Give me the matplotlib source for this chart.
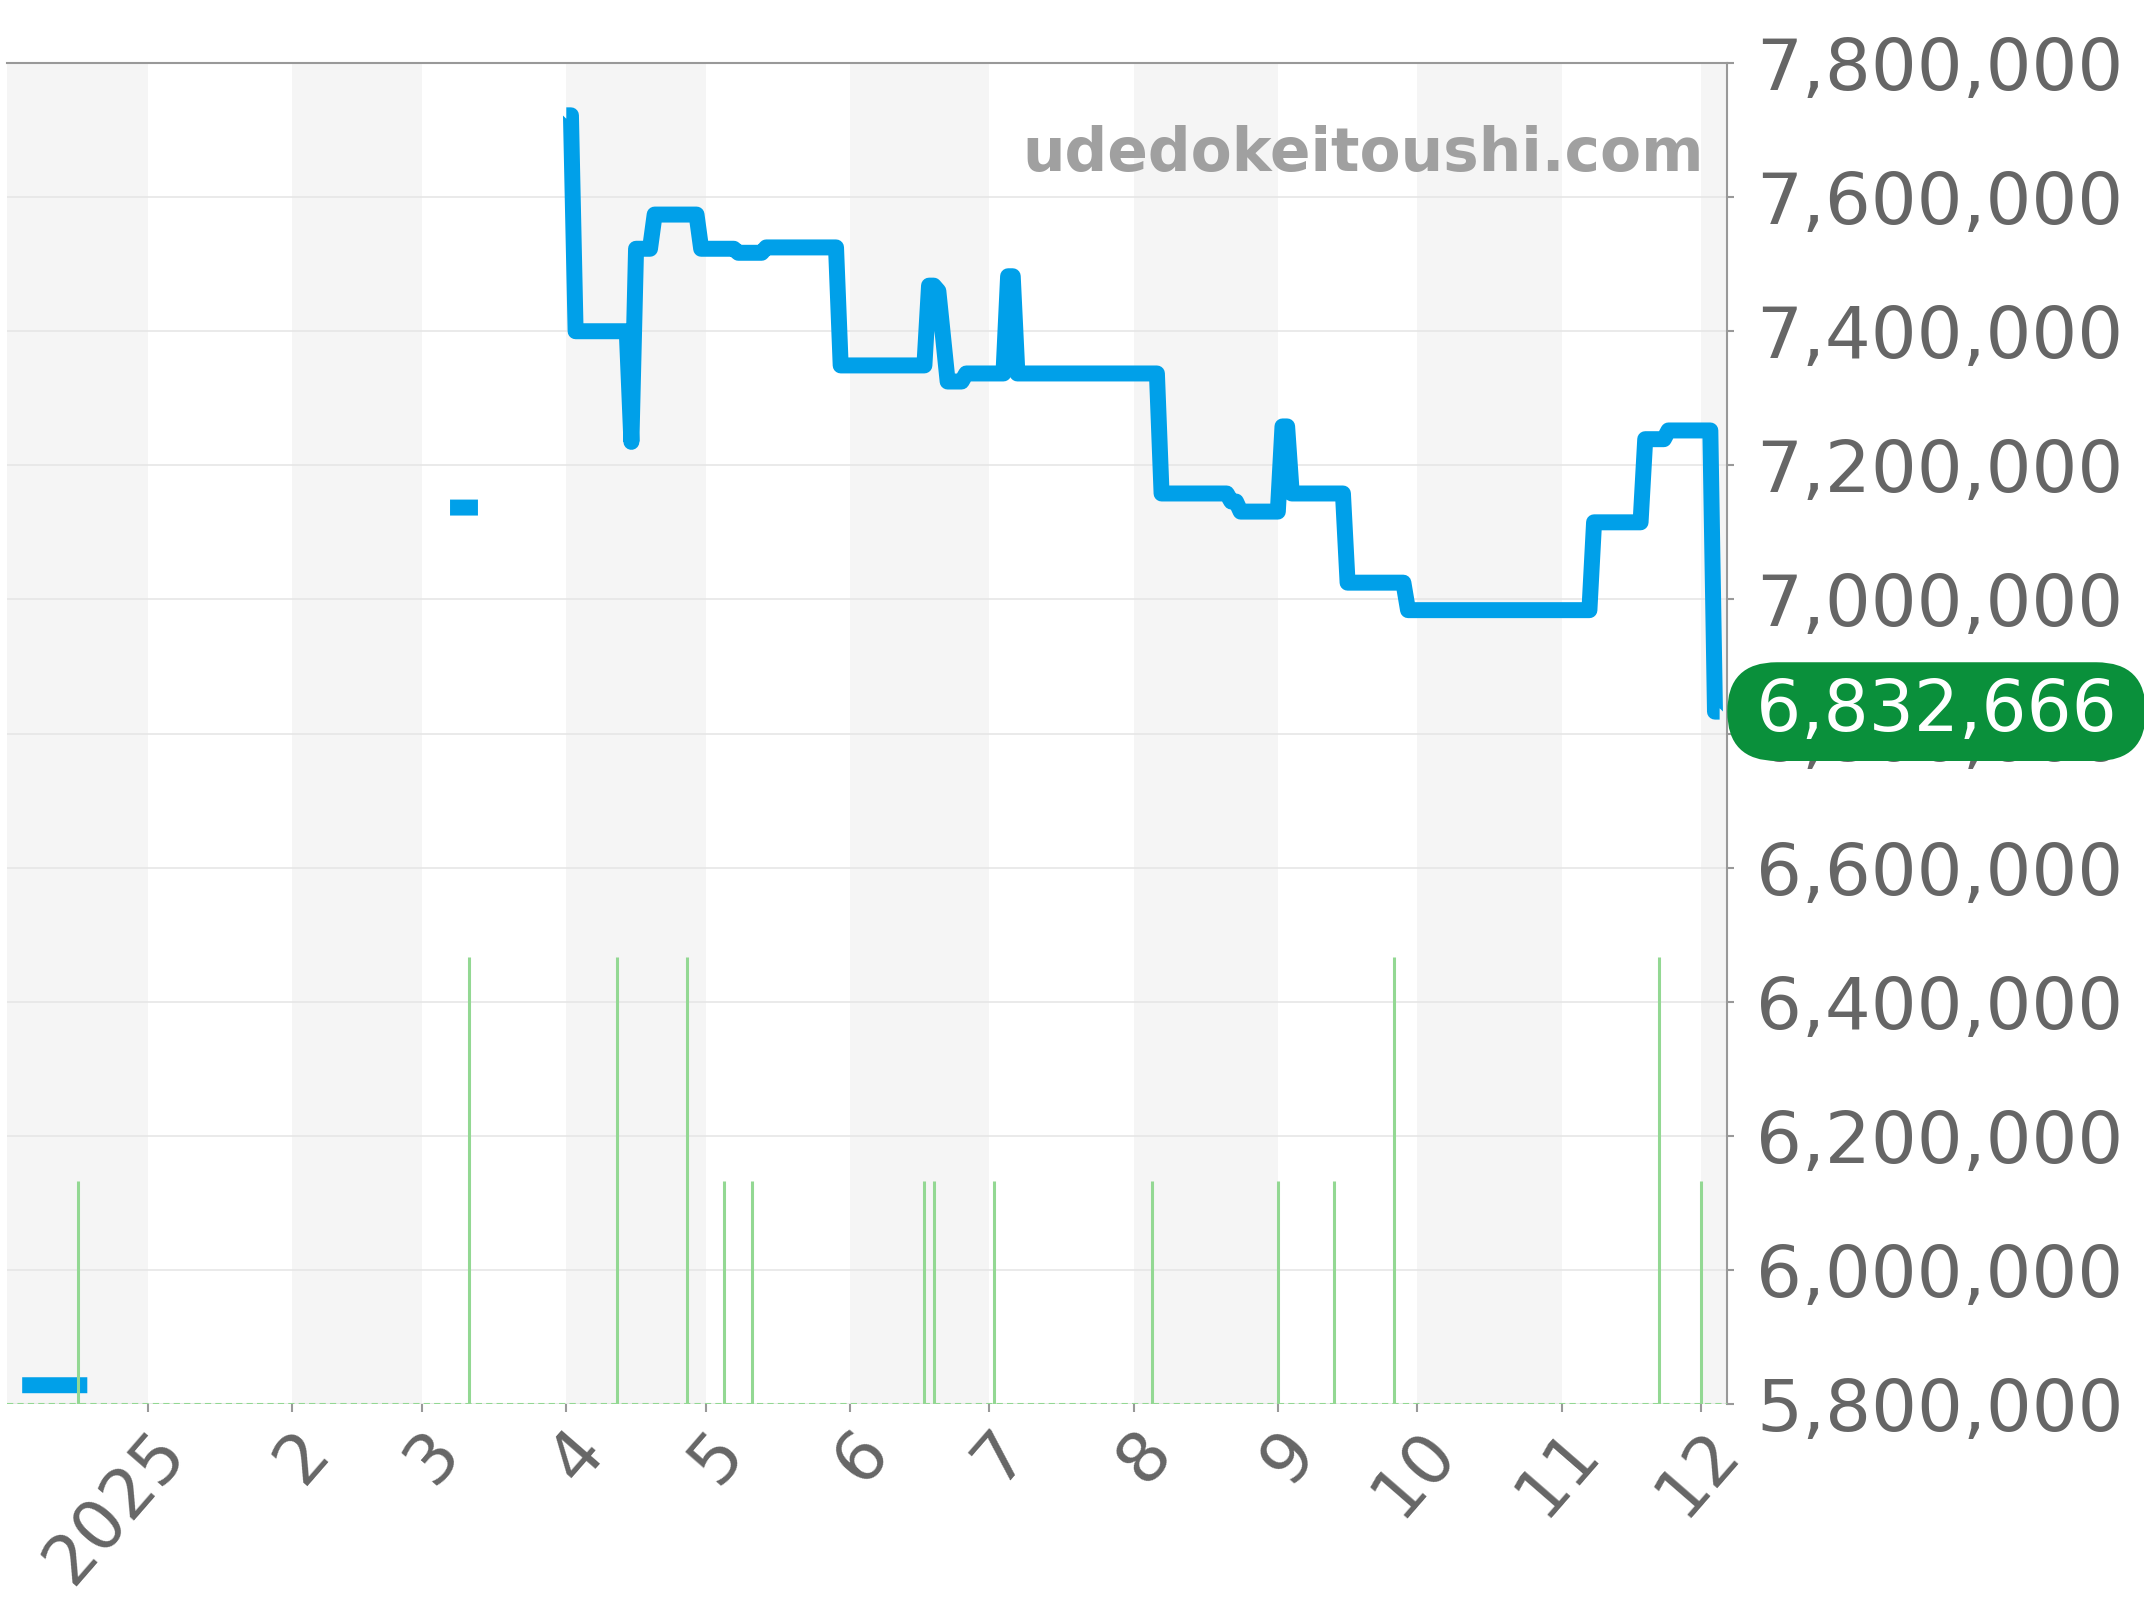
import matplotlib
matplotlib.use("Agg")
import matplotlib.pyplot as plt
import numpy as np
import pandas as pd

# price line, NaN marks a gap between segments
price_dates = ['2024-12-05', '2024-12-19', '2024-12-20',
               '2025-03-07', '2025-03-13', '2025-03-14',
               '2025-04-01', '2025-04-02', '2025-04-03', '2025-04-14', '2025-04-15',
               '2025-04-16', '2025-04-19', '2025-04-20', '2025-04-29', '2025-04-30',
               '2025-05-07', '2025-05-08', '2025-05-13', '2025-05-14', '2025-05-29',
               '2025-05-30', '2025-06-17', '2025-06-18', '2025-06-19', '2025-06-20',
               '2025-06-22', '2025-06-25', '2025-06-26', '2025-07-04', '2025-07-05',
               '2025-07-06', '2025-07-07', '2025-08-06', '2025-08-07', '2025-08-21',
               '2025-08-22', '2025-08-23', '2025-08-24', '2025-09-01', '2025-09-02',
               '2025-09-03', '2025-09-04', '2025-09-15', '2025-09-16', '2025-09-28',
               '2025-09-29', '2025-11-07', '2025-11-08', '2025-11-18', '2025-11-19',
               '2025-11-23', '2025-11-24', '2025-12-03', '2025-12-04', '2025-12-05']
prices = [5828000, 5828000, np.nan,
          7137000, 7137000, np.nan,
          7722000, 7722000, 7400000, 7400000, 7235000,
          7523000, 7523000, 7574000, 7574000, 7523000,
          7523000, 7517000, 7517000, 7525000, 7525000,
          7349000, 7349000, 7468000, 7468000, 7460000,
          7325000, 7325000, 7337000, 7337000, 7482000,
          7482000, 7337000, 7337000, 7158000, 7158000,
          7146000, 7146000, 7131000, 7131000, 7258000,
          7258000, 7158000, 7158000, 7025000, 7025000,
          6984000, 6984000, 7115000, 7115000, 7239000,
          7239000, 7252000, 7252000, 6832666, 6832666]

# number of listings per day (green bars)
volume_dates = ['2024-12-17', '2025-03-11', '2025-04-12', '2025-04-27', '2025-05-05',
                '2025-05-11', '2025-06-17', '2025-06-19', '2025-07-02', '2025-08-05',
                '2025-09-01', '2025-09-13', '2025-09-26', '2025-11-22', '2025-12-01']
volume_counts = [1, 2, 2, 2, 1, 1, 1, 1, 1, 1, 1, 1, 2, 2, 1]

month_labels = ['2025', '2', '3', '4', '5', '6', '7', '8', '9', '10', '11', '12']
last_price = 6832666

grey = '#666666'

fig = plt.figure(figsize=(21.44, 16), dpi=100)
ax = fig.add_axes([0.0033, 0.1225, 0.8022, 0.8381])

# alternating month bands
bounds = pd.date_range('2024-12-01', '2026-01-01', freq='MS')
for i in range(len(bounds) - 1):
    if i % 2 == 0:
        ax.axvspan(bounds[i], bounds[i + 1], color='#f5f5f5', lw=0, zorder=0)

ax.plot(pd.to_datetime(price_dates), prices, color='#00a0e9', lw=11.5,
        solid_joinstyle='round', solid_capstyle='butt', zorder=3)

# listings count on a hidden second scale
ax2 = ax.twinx()
ax2.set_ylim(0, 6)
ax2.vlines(pd.to_datetime(volume_dates), 0, volume_counts, color='#93d893', lw=2.2)
ax2.axhline(0, color='#93d893', lw=1.5, ls=(0, (3, 2)))
ax2.set_yticks([])
for s in ax2.spines.values():
    s.set_visible(False)

ax.set_xlim(pd.Timestamp('2024-12-01 18:00'), pd.Timestamp('2025-12-06 14:00'))
ax.set_ylim(5800000, 7800000)
ax.set_yticks(np.arange(5800000, 7800001, 200000))
ax.yaxis.set_major_formatter(matplotlib.ticker.FuncFormatter(lambda v, p: '{:,}'.format(int(v))))
ax.yaxis.tick_right()
ax.grid(axis='y', color='#e6e6e6', lw=1.2, zorder=1)
ax.set_axisbelow(True)

ticks = pd.date_range('2025-01-01', '2025-12-01', freq='MS')
ax.set_xticks(ticks)
ax.set_xticklabels(month_labels)
ax.tick_params(axis='x', colors='#999999', labelcolor=grey, labelsize=50, length=6,
               width=1.5, pad=4)
ax.tick_params(axis='y', colors='#999999', labelcolor=grey, labelsize=52, length=5,
               width=1.5, pad=16)
for lab in ax.get_xticklabels():
    lab.set_rotation(49)
    lab.set_ha('right')
    lab.set_va('top')
    lab.set_rotation_mode('anchor')

for s in ['left', 'bottom']:
    ax.spines[s].set_visible(False)
for s in ['top', 'right']:
    ax.spines[s].set_color('#999999')
    ax.spines[s].set_linewidth(1.5)

ax.text(0.9865, 0.9195, 'udedokeitoushi.com', transform=ax.transAxes, ha='right',
        va='baseline', fontsize=43, fontweight='bold', color='#a0a0a0', zorder=5)

badge = ax.text(1.0088, last_price, '\u2009{:,}\u2009'.format(last_price),
                transform=ax.get_yaxis_transform(),
                ha='left', va='center', fontsize=51, color='white', zorder=10, clip_on=False,
                bbox=dict(boxstyle='round,pad=0.21,rounding_size=0.7', fc='#0a903b', ec='none'))

fig.savefig('out.png', dpi=100)
